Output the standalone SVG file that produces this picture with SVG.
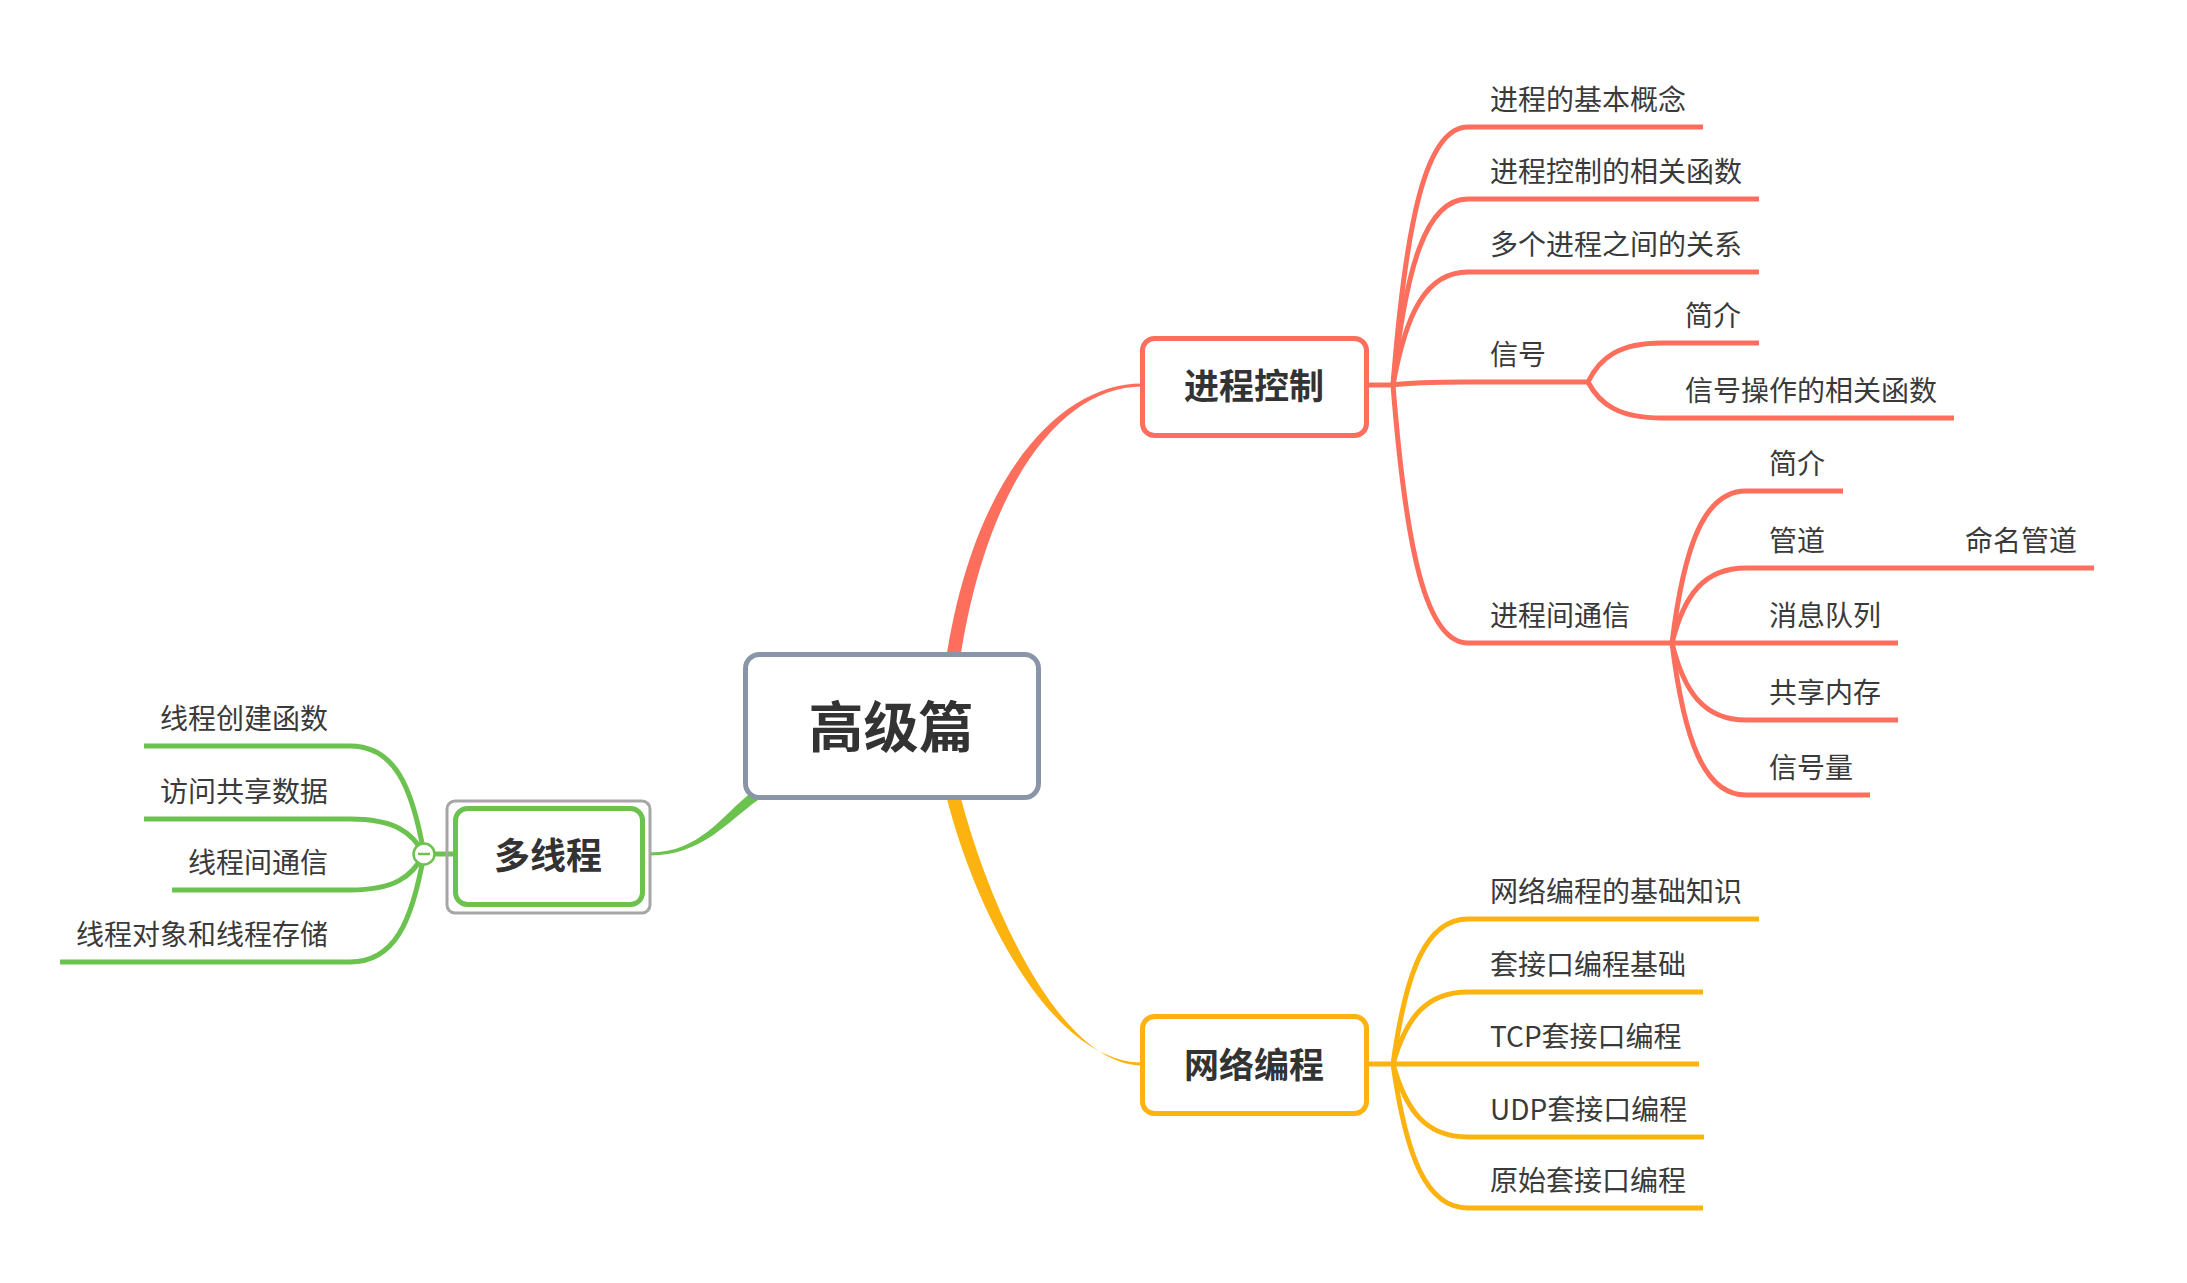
<svg xmlns="http://www.w3.org/2000/svg" width="2187" height="1283" viewBox="0 0 2187 1283">
<style>
.t{font-family:"Noto Sans CJK SC","Liberation Sans",sans-serif;font-size:28px;fill:#3a3a3a}
.main{font-family:"Noto Sans CJK SC","Liberation Sans",sans-serif;font-size:35px;font-weight:bold;fill:#333;text-anchor:middle}
.r{fill:none;stroke:#FD6F5C;stroke-width:5}
.y{fill:none;stroke:#FDB30F;stroke-width:5}
.g{fill:none;stroke:#6CC24E;stroke-width:5}
</style>
<rect width="2187" height="1283" fill="#fff"/>
<g id="connectors">
  <path d="M946 660 C973 480 1058 383.5 1142 383.5 L1142 386.5 C1062 386.5 987 482 960 660 Z" fill="#FD6F5C"/>
  <path d="M946 795 C978 922 1056 1062.5 1142 1062.5 L1142 1065.5 C1064 1065.5 992 918 960 795 Z" fill="#FDB30F"/>
  <path d="M752 792 C722 815 700 852.5 650 852.5 L650 855.5 C702 855.5 728 821 758 800 Z" fill="#6CC24E"/>
  <path class="r" d="M1367 385 L1393 385"/>
  <path class="r" d="M1393 385 C1406 220 1426 127 1468 127 L1703 127"/>
  <path class="r" d="M1393 385 C1406 266 1426 199 1468 199 L1759 199"/>
  <path class="r" d="M1393 385 C1406 313 1426 272 1468 272 L1759 272"/>
  <path class="r" d="M1393 385 C1406 383 1426 382 1468 382 L1588 382"/>
  <path class="r" d="M1393 385 C1406 550 1426 643 1468 643 L1672 643"/>
  <path class="r" d="M1588 382 C1600 357 1620 343 1662 343 L1759 343"/>
  <path class="r" d="M1588 382 C1600 405 1620 418 1662 418 L1954 418"/>
  <path class="r" d="M1672 643 C1684 546 1704 491 1746 491 L1843 491"/>
  <path class="r" d="M1672 643 C1684 595 1704 568 1746 568 L1842 568"/>
  <path class="r" d="M1842 568 L2094 568"/>
  <path class="r" d="M1672 643 L1898 643"/>
  <path class="r" d="M1672 643 C1684 692 1704 720 1746 720 L1898 720"/>
  <path class="r" d="M1672 643 C1684 740 1704 795 1746 795 L1870 795"/>
  <path class="y" d="M1367 1064 L1699 1064"/>
  <path class="y" d="M1393 1064 C1406 971 1426 919 1468 919 L1759 919"/>
  <path class="y" d="M1393 1064 C1406 1018 1426 992 1468 992 L1703 992"/>
  <path class="y" d="M1393 1064 C1406 1111 1426 1137 1468 1137 L1704 1137"/>
  <path class="y" d="M1393 1064 C1406 1156 1426 1208 1468 1208 L1703 1208"/>
  <path class="g" d="M424 854 L456 854"/>
  <path class="g" d="M424 854 C412 785 394 746 350 746 L144 746"/>
  <path class="g" d="M424 854 C412 832 394 819 350 819 L144 819"/>
  <path class="g" d="M424 854 C412 877 394 890 350 890 L172 890"/>
  <path class="g" d="M424 854 C412 923 394 962 350 962 L60 962"/>
</g>
<g id="central">
  <rect x="745.5" y="654.5" width="293" height="143" rx="14" fill="#fff" stroke="#8A95A8" stroke-width="5"/>
  <text x="891" y="747" class="main" style="font-size:55px">高级篇</text>
</g>
<g id="jincheng">
  <rect x="1142.5" y="338.5" width="224" height="97" rx="12" fill="#fff" stroke="#FD6F5C" stroke-width="5"/>
  <text x="1254" y="399" class="main">进程控制</text>
</g>
<g id="wangluo">
  <rect x="1142.5" y="1016.5" width="224" height="97" rx="12" fill="#fff" stroke="#FDB30F" stroke-width="5"/>
  <text x="1254" y="1078" class="main">网络编程</text>
</g>
<g id="duoxiancheng">
  <rect x="447" y="801" width="203" height="112" rx="8" fill="none" stroke="#A6A6A6" stroke-width="3"/>
  <rect x="455.5" y="808.5" width="187" height="96" rx="12" fill="#fff" stroke="#6CC24E" stroke-width="5"/>
  <text x="548" y="869" class="main" style="font-size:36px">多线程</text>
  <circle cx="424" cy="854" r="10.5" fill="#fff" stroke="#6CC24E" stroke-width="2.5"/>
  <path d="M418 854 L430 854" stroke="#6CC24E" stroke-width="2.5"/>
</g>
<g id="jc-children">
  <text x="1490" y="110" class="t">进程的基本概念</text>
  <text x="1490" y="182" class="t">进程控制的相关函数</text>
  <text x="1490" y="255" class="t">多个进程之间的关系</text>
  <text x="1490" y="365" class="t">信号</text>
  <text x="1490" y="626" class="t">进程间通信</text>
</g>
<g id="xinhao-children">
  <text x="1685" y="326" class="t">简介</text>
  <text x="1685" y="401" class="t">信号操作的相关函数</text>
</g>
<g id="ipc-children">
  <text x="1769" y="474" class="t">简介</text>
  <text x="1769" y="551" class="t">管道</text>
  <text x="1965" y="551" class="t">命名管道</text>
  <text x="1769" y="626" class="t">消息队列</text>
  <text x="1769" y="703" class="t">共享内存</text>
  <text x="1769" y="778" class="t">信号量</text>
</g>
<g id="wl-children">
  <text x="1490" y="902" class="t">网络编程的基础知识</text>
  <text x="1490" y="975" class="t">套接口编程基础</text>
  <text x="1490" y="1047" class="t">TCP套接口编程</text>
  <text x="1490" y="1120" class="t">UDP套接口编程</text>
  <text x="1490" y="1191" class="t">原始套接口编程</text>
</g>
<g id="xc-children" text-anchor="end">
  <text x="328" y="729" class="t">线程创建函数</text>
  <text x="328" y="802" class="t">访问共享数据</text>
  <text x="328" y="873" class="t">线程间通信</text>
  <text x="328" y="945" class="t">线程对象和线程存储</text>
</g>
</svg>
